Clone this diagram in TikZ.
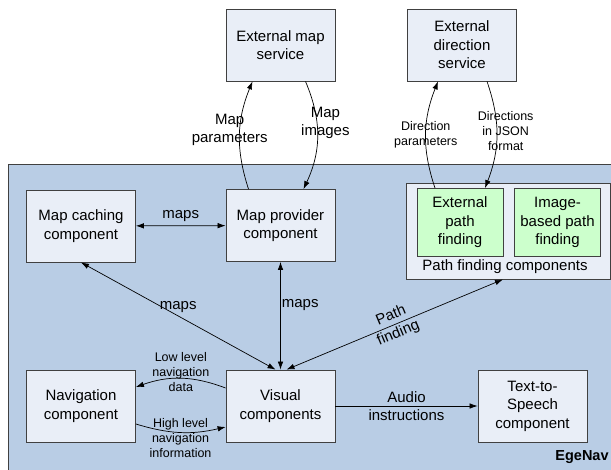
\documentclass[tikz,border=0pt]{standalone}
\usepackage{fontspec}
\setmainfont{Liberation Sans}
\usetikzlibrary{arrows.meta}
\definecolor{navblue}{RGB}{185,205,229}
\definecolor{boxfill}{RGB}{233,238,247}
\definecolor{pathgreen}{RGB}{204,255,204}
\definecolor{edgegray}{RGB}{64,64,64}
\begin{document}
\begin{tikzpicture} [
  x=1pt, y=-1pt,
  >={Latex[length=8pt,width=5.5pt]},
  comp box/.style= {draw=edgegray,fill=boxfill,line width=0.8pt,align=center,minimum width=109pt,minimum height=72pt,inner sep=2pt,font=\fontsize{15}{18.5}\selectfont},
  green box/.style= {comp box,fill=pathgreen,minimum width=86pt,minimum height=68pt},
  group box/.style= {comp box,minimum width=204pt,minimum height=96pt},
  big label/.style= {align=center,font=\fontsize{15}{18}\selectfont},
  small label/.style= {align=center,font=\fontsize{12.5}{15}\selectfont},
  link/.style= {line width=0.7pt},
]
\useasboundingbox (0,0) rectangle (611,469);
\fill [navblue,draw=edgegray,line width=0.8pt] (8,164) rectangle (625,485);

% outside services
\node (extmap) [comp box] at (280.5,45) {External map\\service};
\node (extdir) [comp box] at (462,45) {External\\direction\\service};

% inside EgeNav
\node (cache) [comp box] at (81,226) {Map caching\\component};
\node (provider) [comp box] at (280.5,225.5) {Map provider\\component};
\node (pathbox) [group box] at (508,231) {};
\node (extpath) [green box] at (460,222.5) {External\\path\\finding};
\node (imgpath) [green box] at (557.5,222.5) {Image-\\based path\\finding};
\node (pathtext) [big label] at (505,267) {Path finding components};
\node (nav) [comp box] at (81,406) {Navigation\\component};
\node (visual) [comp box] at (280.5,406) {Visual\\components};
\node (tts) [comp box] at (532.5,406) {Text-to-\\Speech\\component};
\node (egenav) [font=\fontsize{14.5}{17}\selectfont\bfseries] at (582,457) {EgeNav};

% map service
\draw [link,->] ([xshift=-32pt]provider.north) to [bend left=20]
  node [big label,xshift=-10pt,yshift=5pt] {Map\\parameters} ([xshift=-28pt]extmap.south);
\draw [link,->] ([xshift=25pt]extmap.south) to [bend left=24]
  node [big label,xshift=8pt,yshift=13pt] {Map\\images} ([xshift=23pt]provider.north);

% direction service
\draw [link,->] ([xshift=-25pt]extpath.north) to [bend left=20]
  node [small label] {Direction\\parameters} ([xshift=-24pt]extdir.south);
\draw [link,->] ([xshift=25pt]extdir.south) to [bend left=20]
  node [small label,xshift=9pt,yshift=4pt] {Directions\\in JSON\\format} ([xshift=25pt]extpath.north);

% maps
\draw [link,<->] (cache) -- node [big label,above] {maps} (provider);
\draw [link,<->] (cache.south) -- node [big label,above] {maps} ([xshift=-5pt]visual.north);
\draw [link,<->] (provider.south) -- node [big label,right,pos=0.4,inner sep=1pt] {maps} (visual.north);
\draw [link,<->] ([xshift=6pt]visual.north) -- node [big label,sloped,font=\fontsize{15}{19}\selectfont] {Path\\finding} ([xshift=-5pt]pathbox.south);

% navigation
\draw [link,->] ([yshift=18pt]visual.west) to [bend right=20]
  node [small label,yshift=6pt] {Low level\\navigation\\data} ([yshift=19pt]nav.east);
\draw [link,->] ([yshift=-18pt]nav.east) to [bend right=15]
  node [small label,yshift=-6pt] {High level\\navigation\\information} ([yshift=-21pt]visual.west);

% speech
\draw [link,->] (visual) -- node [big label] {Audio\\instructions} (tts);

\end{tikzpicture}
\end{document}
